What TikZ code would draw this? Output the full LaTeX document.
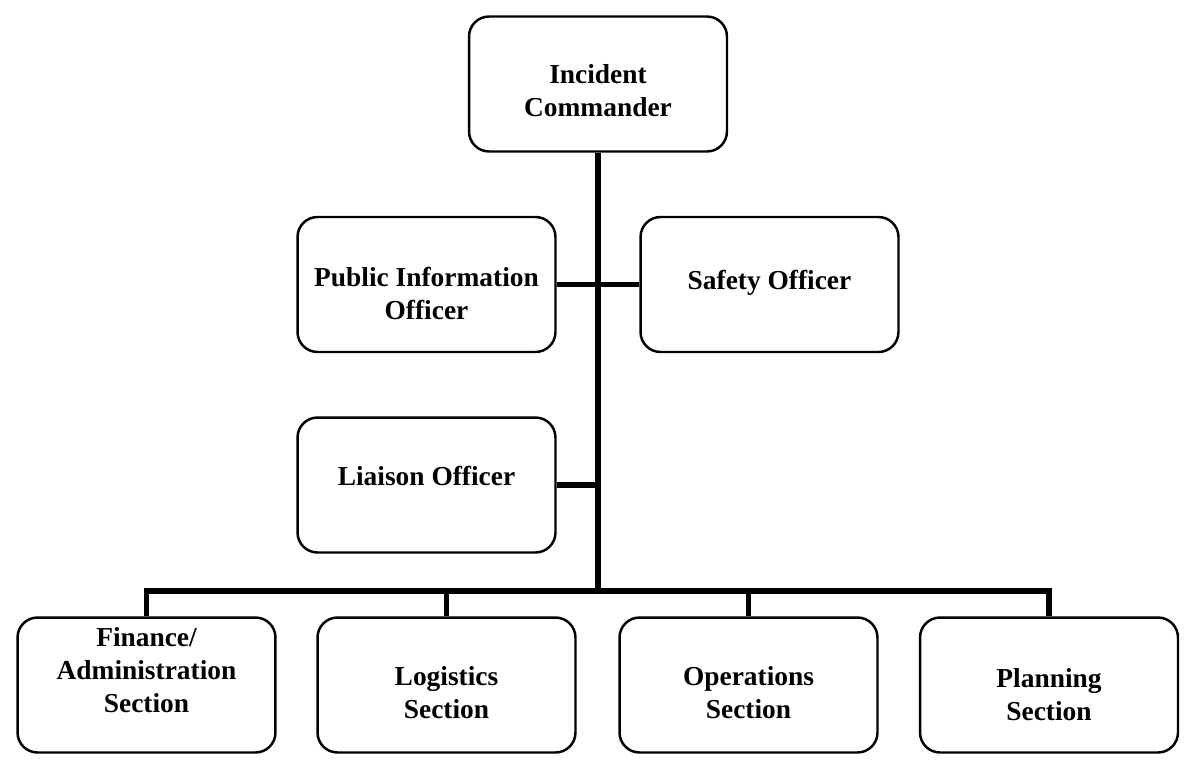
\documentclass[tikz,border=0pt]{standalone}
\usepackage{fontspec}
\setmainfont{Liberation Serif}
\usepackage{tikz}
\usetikzlibrary{positioning}

\begin{document}
\begin{tikzpicture}[x=0.02cm,y=-0.02cm,
    post/.style={draw,rounded corners=0.4cm,line width=1.4pt,minimum width=5.16cm,minimum height=2.7cm,inner sep=0pt},
    title/.style={align=center,inner sep=0pt,outer sep=0pt,font=\fontsize{15.6}{18.8}\selectfont\bfseries},
    wire/.style={line width=3.1pt}]
    \fill[white] (0,0) rectangle (1186,761);
    \useasboundingbox (0,0) rectangle (1186,761);
    \node[post] (ic) at (598,84) {};
    \node[post] (pio) at (426.5,284.5) {};
    \node[post] (safety) at (769.5,284.5) {};
    \node[post] (liaison) at (426.5,485) {};
    \node[post] (fin) at (146.5,685) {};
    \node[post] (log) at (446.5,685) {};
    \node[post] (ops) at (748.5,685) {};
    \node[post] (plan) at (1049,685) {};
    \coordinate (bus) at (598,591);
    \node[title,below=0.98cm of ic.north] (icT) {Incident\\Commander};
    \node[title,below=1.02cm of pio.north] (pioT) {Public Information\\Officer};
    \node[title,below=1.08cm of safety.north] (safetyT) {Safety Officer};
    \node[title,below=1.0cm of liaison.north] (liaisonT) {Liaison Officer};
    \node[title,below=0.22cm of fin.north] (finT) {Finance/\\Administration\\Section};
    \node[title,below=1.0cm of log.north] (logT) {Logistics\\Section};
    \node[title,below=1.0cm of ops.north] (opsT) {Operations\\Section};
    \node[title,below=1.04cm of plan.north] (planT) {Planning\\Section};
    \draw[wire] (ic.south) -- (bus);
    \draw[wire] (pio.east) -- (safety.west);
    \draw[wire] (liaison.east) -- (liaison.east -| bus);
    \draw[wire] (fin.north) |- (bus) -| (plan.north);
    \draw[wire] (log.north) -- (log.north |- bus);
    \draw[wire] (ops.north) -- (ops.north |- bus);
\end{tikzpicture}
\end{document}
